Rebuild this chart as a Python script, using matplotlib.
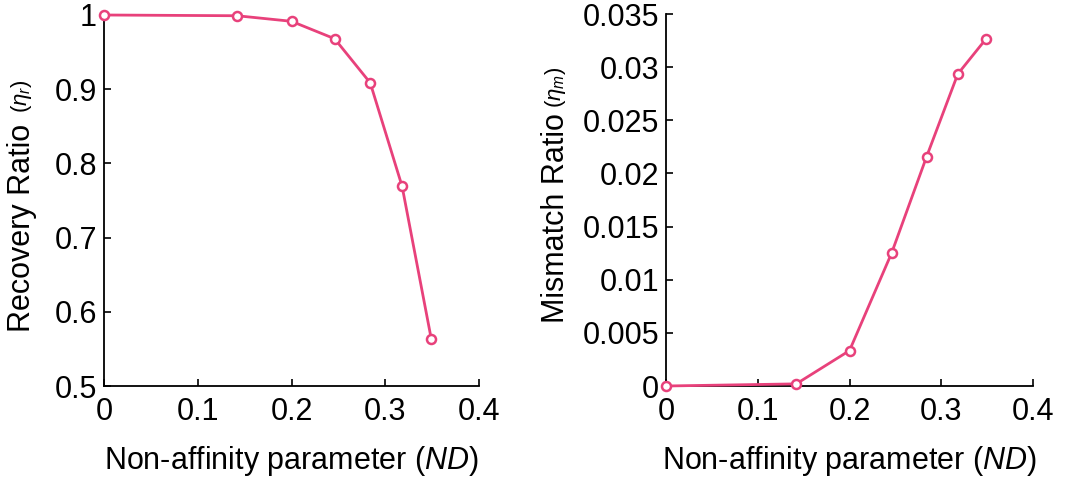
import matplotlib
matplotlib.use('Agg')
import matplotlib.pyplot as plt
from matplotlib.ticker import FuncFormatter

plt.rcParams['font.family'] = ['Liberation Sans', 'DejaVu Sans']
plt.rcParams['mathtext.fontset'] = 'custom'
plt.rcParams['mathtext.rm'] = 'Liberation Sans'
plt.rcParams['mathtext.it'] = 'Liberation Sans:italic'

nd = [0, 0.142, 0.2, 0.246, 0.284, 0.318, 0.349]
recovery = [1.0, 0.999, 0.9915, 0.968, 0.9085, 0.769, 0.564]
mismatch = [0, 0.0002, 0.00333, 0.01253, 0.02157, 0.02935, 0.03268]

xticks = [0, 0.1, 0.2, 0.3, 0.4]
rec_ticks = [0.5, 0.6, 0.7, 0.8, 0.9, 1]
mis_ticks = [0, 0.005, 0.01, 0.015, 0.02, 0.025, 0.03, 0.035]

color = '#E8417B'
fmt = FuncFormatter(lambda v, p: '%g' % round(v, 6))

fig = plt.figure(figsize=(10.65, 4.79), dpi=100)
ax1 = fig.add_axes([104/1065, 1-386/479, 375/1065, 371/479])
ax2 = fig.add_axes([666/1065, 1-386/479, 367/1065, 372/479])

for ax, y, yt in [(ax1, recovery, rec_ticks), (ax2, mismatch, mis_ticks)]:
    ax.plot(nd, y, '-o', color=color, lw=2, ms=6.5, mfc='white',
            mec=color, mew=1.8, clip_on=False, zorder=5)
    ax.set_xlim(0, 0.4)
    ax.set_ylim(yt[0], yt[-1])
    ax.set_xticks(xticks)
    ax.set_yticks(yt)
    ax.xaxis.set_major_formatter(fmt)
    ax.yaxis.set_major_formatter(fmt)
    ax.spines['top'].set_visible(False)
    ax.spines['right'].set_visible(False)
    for s in ['left', 'bottom']:
        ax.spines[s].set_linewidth(1.3)
    ax.tick_params(direction='in', length=5, width=1.2, labelsize=22)
    ax.tick_params(axis='x', pad=8)
    ax.tick_params(axis='y', pad=5)
    ax.set_xlabel('Non-affinity parameter ($\\mathit{ND}$)', fontsize=22, labelpad=12)

# y labels with smaller symbol part
fig.text(22/1065, 1-332/479, 'Recovery Ratio', rotation=90, rotation_mode='anchor',
         ha='left', va='center', fontsize=22)
fig.text(22/1065, 1-113/479, r'$(\eta_r)$', rotation=90, rotation_mode='anchor',
         ha='left', va='center', fontsize=16)
fig.text(556/1065, 1-323/479, 'Mismatch Ratio', rotation=90, rotation_mode='anchor',
         ha='left', va='center', fontsize=22)
fig.text(556/1065, 1-108/479, r'$(\eta_m)$', rotation=90, rotation_mode='anchor',
         ha='left', va='center', fontsize=16)

fig.savefig('out.png', dpi=100)
